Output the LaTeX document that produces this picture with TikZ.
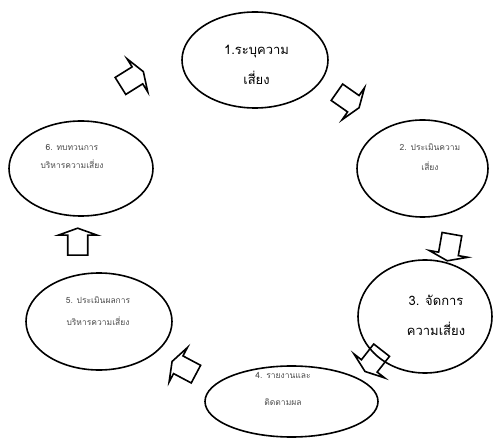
\documentclass[tikz,border=0pt]{standalone}
\usepackage{fontspec}
\newfontfamily\thaifont[Script=Thai]{Loma}
\usetikzlibrary{shapes.geometric}

\begin{document}
\begin{tikzpicture}
[
x=1pt, y=-1pt,
Outline/.style={draw=black, line width=1.6pt, line join=miter},
Stage/.style={ellipse, Outline, inner sep=0pt},
BigText/.style={font=\thaifont\fontsize{13}{30}\selectfont, text=black, align=center},
SmallText/.style={font=\thaifont\fontsize{8.5}{20}\selectfont, text=black!70, align=center},
BlockArrow/.pic={\draw[Outline] (-13.5,-10) -- (6.5,-10) -- (6.5,-19.5) -- (13.5,0) -- (6.5,19.5) -- (6.5,10) -- (-13.5,10) -- cycle;},
]

\useasboundingbox (0,0) rectangle (495,438);

% the six stages
\node[Stage, minimum width=146pt, minimum height=96pt] (e1) at (255,60) {};
\node[Stage, minimum width=131pt, minimum height=97pt] (e2) at (422.5,168.5) {};
\node[Stage, minimum width=134pt, minimum height=113pt] (e3) at (425,316.5) {};
\node[Stage, minimum width=173pt, minimum height=71pt] (e4) at (291.5,401.5) {};
\node[Stage, minimum width=146pt, minimum height=97pt] (e5) at (99,321.5) {};
\node[Stage, minimum width=144pt, minimum height=95pt] (e6) at (81,168.5) {};

% labels
\node[BigText] (t1) at (256.5,65) {1.ระบุความ\\เสี่ยง};
\node[SmallText] (t2) at (430,157) {2. ประเมินความ\\เสี่ยง};
\node[BigText] (t3) at (436,315) {3. จัดการ\\ความเสี่ยง};
\node[SmallText] (t4) at (283,388.5) {4. รายงานและ\\[7pt]ติดตามผล};
\node[SmallText] (t5) at (98,311) {5. ประเมินผลการ\\[2pt]บริหารความเสี่ยง};
\node[SmallText] (t6) at (72,156) {6. ทบทวนการ\\[-2pt]บริหารความเสี่ยง};

% arrows between stages
\pic[rotate=-35] (a12) at (348,100) {BlockArrow};
\pic[rotate=-100] (a23) at (449.6,247.5) {BlockArrow};
\pic[rotate=-128] (a34) at (373.3,360.8) {BlockArrow};
\pic[rotate=152] (a45) at (184,367.8) {BlockArrow};
\pic[rotate=90] (a56) at (77.7,241.7) {BlockArrow};
\pic[rotate=32] (a61) at (131.9,78.8) {BlockArrow};

\end{tikzpicture}
\end{document}
